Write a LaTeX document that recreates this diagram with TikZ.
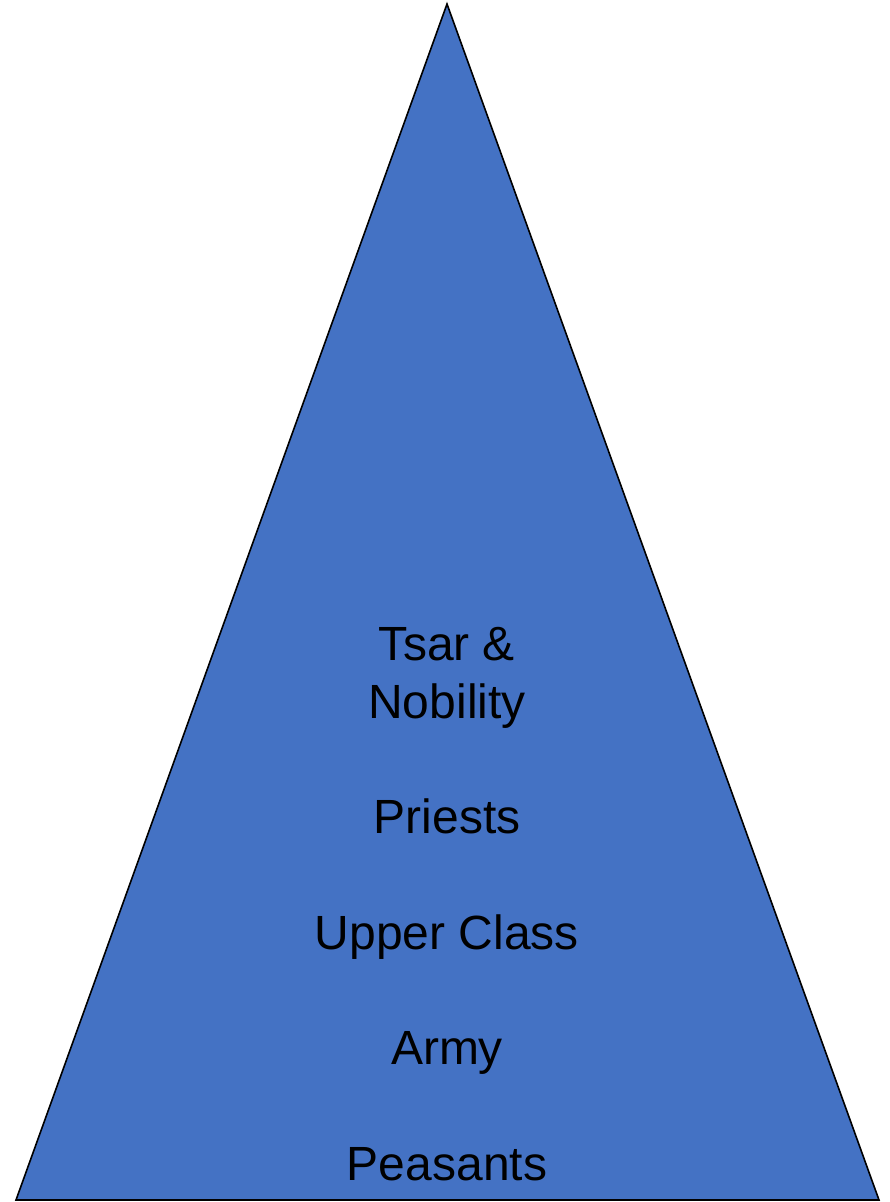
\documentclass[tikz,border=0pt]{standalone}
\usepackage{fontspec}
\setmainfont{Liberation Sans}
\definecolor{pyrblue}{HTML}{4472C4}
\begin{document}
\begin{tikzpicture}[x=1pt,y=-1pt,
  lbl/.style={anchor=base,inner sep=0pt,font=\fontsize{48}{58}\selectfont,text=black}]
\useasboundingbox (0,0) rectangle (889,1202);
\coordinate (apex) at (447,4);
\coordinate (bl) at (16,1200);
\coordinate (br) at (879,1200);
\filldraw[fill=pyrblue,draw=black,line width=1.6pt,line join=miter] (apex) -- (br) -- (bl) -- cycle;
\node[lbl] (t1) at (447,660) {Tsar \&};
\node[lbl] (t2) at (447,718) {Nobility};
\node[lbl] (t3) at (447,833) {Priests};
\node[lbl] (t4) at (447,949) {Upper Class};
\node[lbl] (t5) at (447,1064) {Army};
\node[lbl] (t6) at (447,1180) {Peasants};
\end{tikzpicture}
\end{document}
